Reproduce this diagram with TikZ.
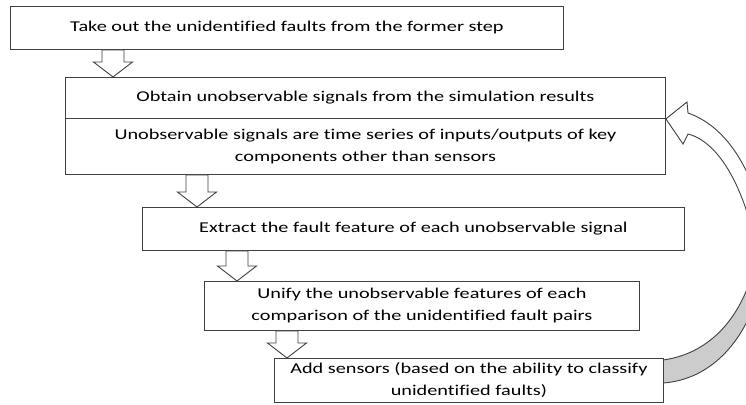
\documentclass[tikz,border=0pt]{standalone}
\usepackage{fontspec}
\setmainfont{Carlito}[FakeStretch=1.35, Ligatures=NoCommon]
\usepackage{tikz}
\usetikzlibrary{arrows.meta, positioning, calc}
\definecolor{lineg}{RGB}{64, 64, 64}
\definecolor{bandg}{RGB}{204, 204, 204}
\tikzset{
  stepbox/.style={draw=lineg, fill=white, line width=0.9pt, anchor=north west,
    align=center, inner sep=0pt, font=\fontsize{15}{22}\selectfont},
  flowarrow/.style={draw=lineg, fill=white, line width=0.9pt, line join=miter},
}
% hollow block arrow from #1 down to #2, centred at x = #3
\newcommand{\fatarrow}[3]{%
  \coordinate (fa top) at (#3,0 |- #1.south);
  \coordinate (fa tip) at (#3,0 |- #2.north);
  \draw[flowarrow] ($(fa top)+(-11,0)$) -- ($(fa tip)+(-11,-15)$)
    -- ($(fa tip)+(-19.5,-15)$) -- (fa tip) -- ($(fa tip)+(19.5,-15)$)
    -- ($(fa tip)+(11,-15)$) -- ($(fa top)+(11,0)$) -- cycle;}

\begin{document}
\begin{tikzpicture}[x=1pt, y=-1pt]
  \useasboundingbox (0,0) rectangle (746,404);
  \clip (0,0) rectangle (746,404);
  % Steps
  \node[stepbox, minimum width=553pt, minimum height=43pt] (box1) at (10,6)
    {Take out the unidentified faults from the former step};
  \node[stepbox, minimum width=600pt, minimum height=41pt] (box2a) at (65,77)
    {Obtain unobservable signals from the simulation results};
  \node[stepbox, minimum width=600pt, minimum height=56pt] (box2b) at (65,118)
    {Unobservable signals are time series of inputs/outputs of key\\components other than sensors};
  \node[stepbox, minimum width=542pt, minimum height=43pt] (box3) at (142,207)
    {Extract the fault feature of each unobservable signal};
  \node[stepbox, minimum width=435pt, minimum height=49pt] (box4) at (204,281)
    {Unify the unobservable features of each\\comparison of the unidentified fault pairs};
  % Feedback arrow (back side)
  \coordinate (fb low) at (663,360);
  \coordinate (fb high) at (663,383);
  \filldraw[draw=lineg, fill=bandg, line width=0.9pt] (fb low)
    .. controls (700,355) and (735,330) .. (752,275) -- (758,295)
    .. controls (740,350) and (705,380) .. (fb high) -- cycle;
  \node[stepbox, minimum width=389pt, minimum height=44pt] (box5) at (274,358)
    {Add sensors (based on the ability to classify\\unidentified faults)};
  % Feedback arrow (head)
  \coordinate (fb tip) at (box2a.south east);
  \filldraw[draw=lineg, fill=white, line width=0.9pt] (fb tip) -- (687,102) -- (688,113)
    .. controls (722,125) and (748,160) .. (762,215) -- (750,222)
    .. controls (735,170) and (712,140) .. (688,134) -- (683,144) -- cycle;
  % Down arrows
  \foreach \a/\b/\x in {box1/box2a/113, box2b/box3/197, box3/box4/237, box4/box5/287}
    \fatarrow{\a}{\b}{\x};
\end{tikzpicture}
\end{document}
